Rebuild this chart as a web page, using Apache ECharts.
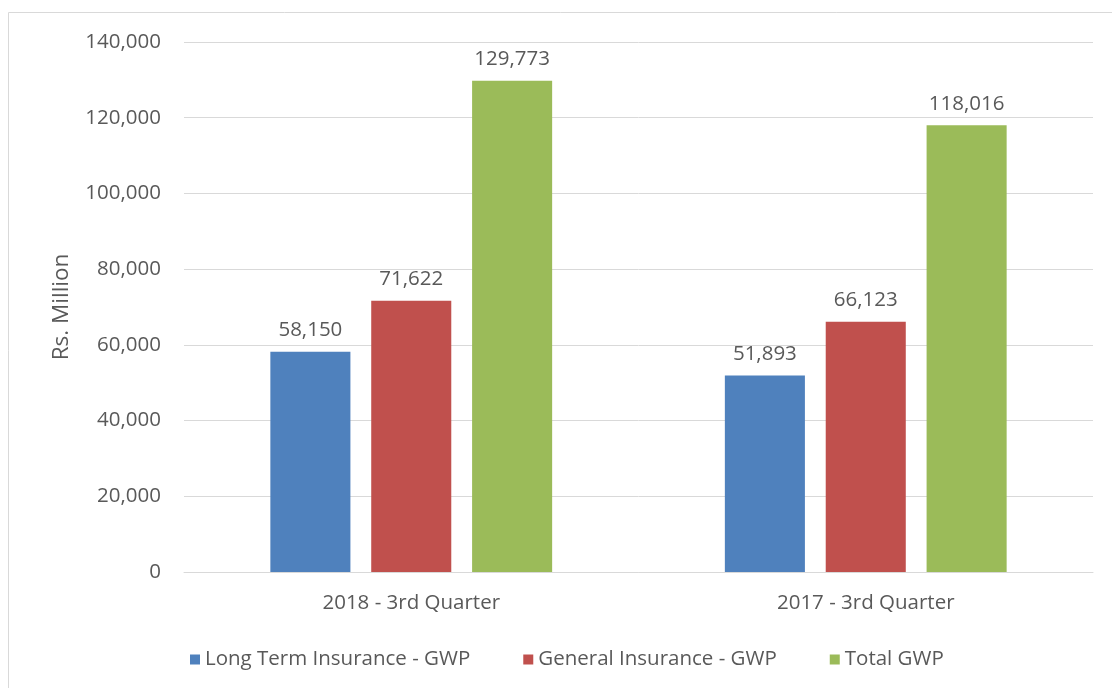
<!DOCTYPE html>
<html><head><meta charset="utf-8">
<script src="https://cdn.jsdelivr.net/npm/echarts@6/dist/echarts.min.js"></script>
<style>html,body{margin:0;padding:0;background:#fff}#c{width:1112px;height:688px}</style>
</head><body><div id="c"></div>
<script>
const categories = ['2018 - 3rd Quarter', '2017 - 3rd Quarter'];
const seriesNames = ['Long Term Insurance - GWP', 'General Insurance - GWP', 'Total GWP'];
const longTerm = [58150, 51893];
const general = [71622, 66123];
const total = [129773, 118016];
const colors = ['#4F81BD', '#C0504D', '#9BBB59'];
const font = 'Open Sans';
const txt = '#595959';
const fmt = v => v.toLocaleString('en-US');
const chart = echarts.init(document.getElementById('c'));
const mk = (name, data, color) => ({
  name, type: 'bar', data, itemStyle: {color},
  barGap: '26%', barCategoryGap: '38%',
  label: {show: true, position: 'top', distance: 11, color: txt, fontFamily: font, fontSize: 20.5,
    formatter: p => fmt(p.value)}
});
chart.setOption({
  animation: false,
  graphic: [{type: 'rect', shape: {x: 8.5, y: 12.5, width: 1200, height: 800},
    style: {fill: 'none', stroke: '#D9D9D9', lineWidth: 1}, z: -1}],
  grid: {left: 184, right: 19, top: 42, bottom: 116, containLabel: false},
  legend: {top: 644, left: 185, itemWidth: 10, itemHeight: 10, itemGap: 53, icon: 'rect',
    textStyle: {color: txt, fontFamily: font, fontSize: 20.5, padding: [0, 0, 0, 0]},
    data: seriesNames},
  xAxis: {type: 'category', data: categories,
    axisLine: {lineStyle: {color: '#D9D9D9', width: 1}}, axisTick: {show: false},
    axisLabel: {color: txt, fontFamily: font, fontSize: 20.5, margin: 21}},
  yAxis: {type: 'value', min: 0, max: 140000, interval: 20000,
    name: 'Rs. Million', nameLocation: 'middle', nameGap: 111, nameRotate: 90,
    nameTextStyle: {color: txt, fontFamily: font, fontSize: 22.5},
    axisLine: {show: false}, axisTick: {show: false},
    splitLine: {lineStyle: {color: '#D9D9D9', width: 1}},
    axisLabel: {color: txt, fontFamily: font, fontSize: 20.5, margin: 23, formatter: v => fmt(v)}},
  series: [mk(seriesNames[0], longTerm, colors[0]), mk(seriesNames[1], general, colors[1]), mk(seriesNames[2], total, colors[2])]
});
</script></body></html>
